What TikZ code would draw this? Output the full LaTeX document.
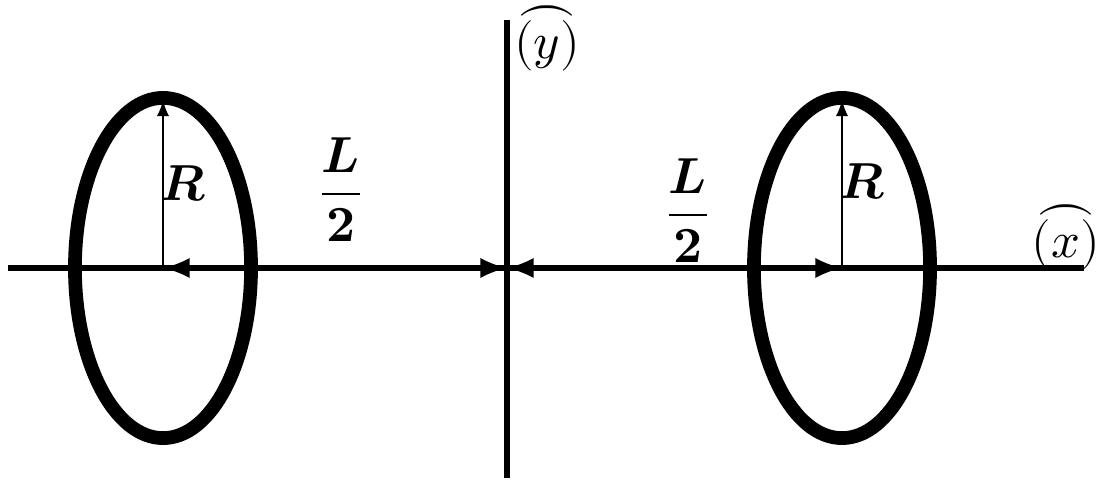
\documentclass[tikz,border=0pt]{standalone}
\usepackage{unicode-math}
\setmathfont{Latin Modern Math}
\begin{document}
\begin{tikzpicture}[
  x=0.01cm, y=-0.01cm,
  axis/.style={line width=1.6pt},
  ring/.style={line width=3.9pt},
  dim/.style={<->, >=latex, line width=1.6pt},
  rad/.style={->, >=latex, line width=0.6pt},
  lbl/.style={font=\Large, inner sep=1pt}
]
\useasboundingbox (0,0) rectangle (1104,483);
% Axis points
\coordinate (o) at (507,268);
\coordinate (xl) at (8,268);
\coordinate (xr) at (1084,268);
\coordinate (yt) at (507,20);
\coordinate (yb) at (507,478);
% Ring centres and tops
\coordinate (lc) at (163,268);
\coordinate (rc) at (842,268);
\coordinate (lt) at (163,100);
\coordinate (rt) at (842,100);

% Axes
\draw[axis] (xl) -- (xr);
\draw[axis] (yt) -- (yb);
% Rings
\draw[ring] (lc) ellipse [x radius=0.88cm, y radius=1.7cm];
\draw[ring] (rc) ellipse [x radius=0.88cm, y radius=1.7cm];
% Radii
\draw[rad] (lc) -- (lt);
\draw[rad] (rc) -- (rt);
% Half distances
\draw[dim] (lc) -- (o);
\draw[dim] (o) -- (rc);

% Labels
\node[lbl] (rl) at (184,184) {$\symbfit{R}$};
\node[lbl] (rr) at (862,182) {$\symbfit{R}$};
\node[lbl] (hl) at (341,190) {$\dfrac{\symbfit{L}}{\symbf{2}}$};
\node[lbl] (hr) at (688,211) {$\dfrac{\symbfit{L}}{\symbf{2}}$};
\node[lbl] (ylab) at (547,38) {$\overparen{(y)}$};
\node[lbl, anchor=east] (xlab) at (1104,237) {$\overparen{(x)}$};
\end{tikzpicture}
\end{document}
